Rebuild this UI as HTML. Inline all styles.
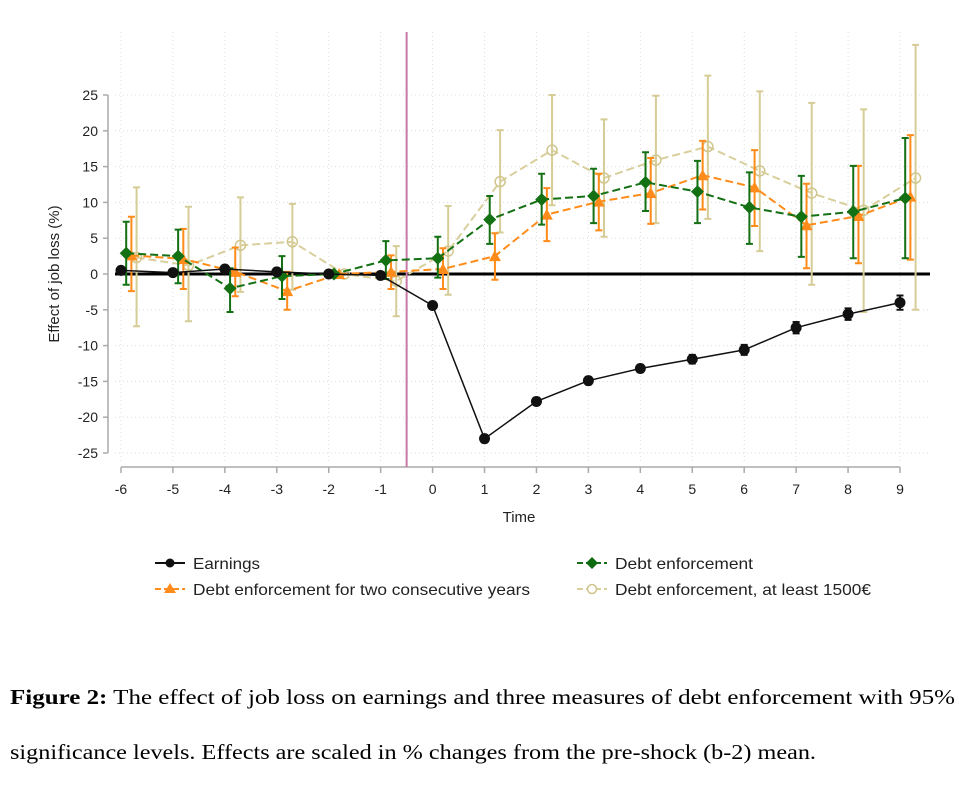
<!DOCTYPE html>
<html><head><meta charset="utf-8"><style>
html,body{margin:0;padding:0;background:#fff;width:959px;height:785px;overflow:hidden}
svg{display:block}
</style></head><body>
<svg id="chart" width="959" height="785" viewBox="0 0 959 785" xmlns="http://www.w3.org/2000/svg" font-family="Liberation Sans, sans-serif">
<g id="grid"></g>
<g id="axes"></g>
<g id="series"></g>
<g id="legend">
  <g>
    <line x1="155" y1="563" x2="185" y2="563" stroke="#111" stroke-width="2"/>
    <circle cx="170" cy="563" r="4.5" fill="#111"/>
    <text x="193" y="569" font-size="16" fill="#222" textLength="67" lengthAdjust="spacingAndGlyphs">Earnings</text>
  </g>
  <g>
    <line x1="577" y1="563" x2="607" y2="563" stroke="#1a6e1a" stroke-width="2" stroke-dasharray="6,3"/>
    <polygon points="592,557 598,563 592,569 586,563" fill="#0f6b0f"/>
    <text x="615" y="569" font-size="16" fill="#222" textLength="138" lengthAdjust="spacingAndGlyphs">Debt enforcement</text>
  </g>
  <g>
    <line x1="155" y1="589" x2="185" y2="589" stroke="#ff8c1a" stroke-width="2" stroke-dasharray="6,3"/>
    <polygon points="170,583 176,593 164,593" fill="#ff8c1a"/>
    <text x="193" y="595" font-size="16" fill="#222" textLength="337" lengthAdjust="spacingAndGlyphs">Debt enforcement for two consecutive years</text>
  </g>
  <g>
    <line x1="577" y1="589" x2="607" y2="589" stroke="#d8cf9c" stroke-width="2" stroke-dasharray="6,3"/>
    <circle cx="592" cy="589" r="4.5" fill="#fff" stroke="#cfc48c" stroke-width="1.5"/>
    <text x="615" y="595" font-size="16" fill="#222" textLength="256" lengthAdjust="spacingAndGlyphs">Debt enforcement, at least 1500€</text>
  </g>
</g>
<g font-family="Liberation Serif, serif" font-size="21" fill="#000">
  <text x="10" y="704" textLength="945" lengthAdjust="spacingAndGlyphs"><tspan font-weight="bold">Figure 2:</tspan> The effect of job loss on earnings and three measures of debt enforcement with 95%</text>
  <text x="10" y="759" textLength="806" lengthAdjust="spacingAndGlyphs">significance levels. Effects are scaled in % changes from the pre-shock (b-2) mean.</text>
</g>
</svg>
<script>
const times = [-6,-5,-4,-3,-2,-1,0,1,2,3,4,5,6,7,8,9];
const yTicks = [25,20,15,10,5,0,-5,-10,-15,-20,-25];
const earnings = [0.5,0.2,0.7,0.3,0,-0.2,-4.4,-23,-17.8,-14.9,-13.2,-11.9,-10.6,-7.5,-5.6,-4.0];
const earningsLo = [0.2,-0.1,0.4,0,0,-0.5,-4.8,-23.5,-18.3,-15.4,-13.7,-12.5,-11.3,-8.3,-6.4,-5.0];
const earningsHi = [0.8,0.5,1.0,0.6,0,0.1,-4.0,-22.5,-17.3,-14.4,-12.7,-11.3,-9.9,-6.7,-4.8,-3.0];
const debt = [2.9,2.5,-2.0,-0.3,0,1.9,2.2,7.6,10.4,10.9,12.8,11.5,9.3,8.0,8.7,10.6];
const debtLo = [-1.5,-1.3,-5.3,-3.5,0,-0.7,-0.5,4.2,6.9,7.1,8.8,7.1,4.2,2.4,2.2,2.2];
const debtHi = [7.3,6.2,0.8,2.5,0,4.6,5.2,10.9,14.0,14.7,17.0,15.8,14.2,13.7,15.1,19.0];
const twoYears = [2.6,2.1,0.3,-2.4,0,0.3,0.7,2.5,8.3,10.1,11.3,13.8,12.1,6.8,8.1,10.8];
const twoYearsLo = [-2.4,-2.1,-3.1,-5.0,0,-2.1,-2.1,-0.8,4.6,6.1,7.0,9.0,6.7,0.8,1.5,2.0];
const twoYearsHi = [8.0,6.3,3.7,0.3,0,2.6,3.6,5.7,12.0,14.0,16.2,18.6,17.3,12.6,15.1,19.4];
const big = [2.3,1.2,4.0,4.5,0,-1.0,3.2,12.9,17.3,13.4,15.9,17.8,14.4,11.3,8.9,13.4];
const bigLo = [-7.3,-6.6,-2.5,-2.2,0,-5.9,-2.9,5.8,9.6,5.2,7.1,7.7,3.2,-1.5,-5.3,-5.0];
const bigHi = [12.1,9.4,10.7,9.8,0,3.9,9.5,20.1,25.0,21.6,24.9,27.7,25.5,23.9,23.0,32.0];
const shockTime = -0.5;

const NS='http://www.w3.org/2000/svg';
const X = t => 121 + (t+6)*(900-121)/15;
const Y = v => 274 - v*(274-95)/25;
function mk(tag, attrs, parent){const e=document.createElementNS(NS,tag);for(const k in attrs)e.setAttribute(k,attrs[k]);parent.appendChild(e);return e;}
const grid=document.getElementById('grid'), axes=document.getElementById('axes'), ser=document.getElementById('series');

yTicks.forEach(v=>{const l=mk('line',{x1:115,x2:930,y1:Y(v),y2:Y(v),stroke:'#dcdcdc','stroke-width':1,'stroke-dasharray':'1,3'},grid);

});
times.forEach(t=>{const l=mk('line',{x1:X(t),x2:X(t),y1:32,y2:462,stroke:'#dcdcdc','stroke-width':1,'stroke-dasharray':'1,3'},grid);

});

const ya=mk('line',{x1:108,x2:108,y1:Y(25),y2:Y(-25),stroke:'#aaa','stroke-width':1.5},axes);


yTicks.forEach(v=>{mk('line',{x1:103,x2:108,y1:Y(v),y2:Y(v),stroke:'#aaa','stroke-width':1.5},axes);
const tx=mk('text',{x:98,y:Y(v)+5,'text-anchor':'end','font-size':14,fill:'#222'},axes);tx.textContent=v;

});
const xa=mk('line',{x1:X(-6),x2:X(9),y1:467,y2:467,stroke:'#aaa','stroke-width':1.5},axes);


times.forEach(t=>{mk('line',{x1:X(t),x2:X(t),y1:467,y2:473,stroke:'#aaa','stroke-width':1.5},axes);
const tx=mk('text',{x:X(t),y:494,'text-anchor':'middle','font-size':14,fill:'#222'},axes);tx.textContent=t;

});
const xt=mk('text',{x:519,y:522,'text-anchor':'middle','font-size':15,fill:'#222'},axes);xt.textContent='Time';


const yt=mk('text',{x:0,y:0,'text-anchor':'middle','font-size':15,fill:'#222',transform:`translate(59,${Y(0)}) rotate(-90)`},axes);yt.textContent='Effect of job loss (%)';


const zl=mk('line',{x1:115,x2:930,y1:Y(0),y2:Y(0),stroke:'#000','stroke-width':3},axes);


const sl=mk('line',{x1:X(shockTime),x2:X(shockTime),y1:32,y2:467,stroke:'#c77aa8','stroke-width':2},axes);



function drawSeries(name,vals,lo,hi,off,color,ciColor,dash,marker,lw){
  const g=mk('g',{},ser);
  
  
  times.forEach((t,i)=>{const x=X(t+off);
    const c=mk('path',{d:`M${x},${Y(lo[i])}V${Y(hi[i])}M${x-3.5},${Y(lo[i])}h7M${x-3.5},${Y(hi[i])}h7`,stroke:ciColor,'stroke-width':2,fill:'none'},g);
    
    });
  const pts=times.map((t,i)=>X(t+off)+','+Y(vals[i])).join(' ');
  const pl=mk('polyline',{points:pts,fill:'none',stroke:color,'stroke-width':lw,'stroke-dasharray':dash},g);
  
  
  times.forEach((t,i)=>{const x=X(t+off),y=Y(vals[i]);let m;
    if(marker==='circle') m=mk('circle',{cx:x,cy:y,r:5.5,fill:color},g);
    else if(marker==='diamond') m=mk('polygon',{points:`${x},${y-6.5} ${x+6.5},${y} ${x},${y+6.5} ${x-6.5},${y}`,fill:color},g);
    else if(marker==='tri') m=mk('polygon',{points:`${x},${y-6} ${x+6},${y+5} ${x-6},${y+5}`,fill:color},g);
    else m=mk('circle',{cx:x,cy:y,r:5,fill:'none',stroke:'#d0c68e','stroke-width':1.5},g);
    
    });
}
drawSeries('big-debt',big,bigLo,bigHi,0.3,'#d8cf9c','#d6cc96','8,4','ocircle',2);
drawSeries('two-years',twoYears,twoYearsLo,twoYearsHi,0.2,'#ff8c1a','#ff8c1a','8,4','tri',2);
drawSeries('debt',debt,debtLo,debtHi,0.1,'#137013','#137013','8,4','diamond',2);
drawSeries('earnings',earnings,earningsLo,earningsHi,0,'#111','#111','none','circle',1.5);
</script>
</body></html>
